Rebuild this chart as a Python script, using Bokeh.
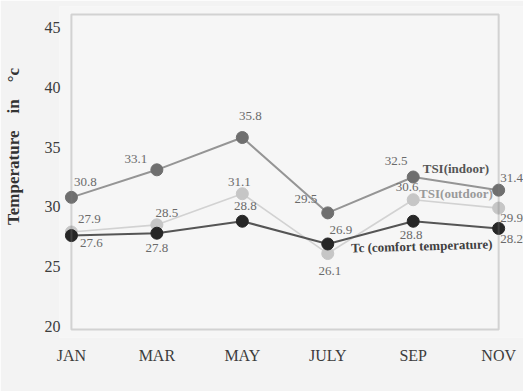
import numpy as np
from bokeh.plotting import figure
from bokeh.models import (ColumnDataSource, Range1d, FixedTicker, BoxAnnotation, Label)
from bokeh.core.properties import value
from bokeh.embed import file_html
from bokeh.resources import INLINE

# ---- data ----
months = ["JAN", "MAR", "MAY", "JULY", "SEP", "NOV"]
tsi_indoor = [30.8, 33.1, 35.8, 29.5, 32.5, 31.4]
tsi_outdoor = [27.9, 28.5, 31.1, 26.1, 30.6, 29.9]
tc_comfort = [27.6, 27.8, 28.8, 26.9, 28.8, 28.2]
y_ticks = [20, 25, 30, 35, 40, 45]

# pixel offsets for the value labels (dx, dy; dy positive = down)
indoor_off = [(14, -15), (-21, -11), (8, -22), (-22, -14), (-17, -16), (13, -12)]
outdoor_off = [(18, -13), (10, -12), (-3, -12), (2, 17), (-6, -13), (13, 10)]
tc_off = [(20, 7), (0, 15), (3, -15), (13, -14), (-2, 14), (13, 11)]

SERIF = "Liberation Serif"
x = np.arange(len(months))

# plot box spans x 0..5 (86 px per step); ranges are padded so that edge
# markers and the NOV value labels are not clipped
px_x = 86.0
px_y = 11.96
y_top_box, y_bot_box = 46.087, 19.749

p = figure(width=523, height=391, output_backend="svg", toolbar_location=None,
           x_range=Range1d(-12 / px_x, 5 + 25 / px_x),
           y_range=Range1d(y_bot_box - 8 / px_y, y_top_box + 8 / px_y),
           min_border_left=56, min_border_right=0,
           min_border_top=6, min_border_bottom=54)
p.background_fill_color = "#f6f6f6"
p.border_fill_color = "#f3f3f3"
p.outline_line_color = None
p.grid.visible = False

# frame box
p.add_layout(BoxAnnotation(left=0, right=5, bottom=y_bot_box, top=y_top_box,
                           fill_alpha=0, line_color="#7d7d7d", line_width=2))

# axes
p.xaxis.ticker = FixedTicker(ticks=list(x))
p.xaxis.major_label_overrides = {int(i): m for i, m in zip(x, months)}
p.yaxis.ticker = FixedTicker(ticks=y_ticks)
for ax in (p.xaxis, p.yaxis):
    ax.axis_line_color = None
    ax.major_tick_line_color = None
    ax.minor_tick_line_color = None
    ax.major_tick_out = 0
    ax.major_tick_in = 0
    ax.minor_tick_out = 0
    ax.minor_tick_in = 0
    ax.major_label_text_font = SERIF
    ax.major_label_text_font_size = "16px"
    ax.major_label_text_color = "#3c3c3c"
p.xaxis.major_label_standoff = 9
p.yaxis.major_label_standoff = -1

nb = "\u00a0"
p.yaxis.axis_label = nb * 12 + "Temperature" + nb * 4 + "in" + nb * 4 + "°c"
p.yaxis.axis_label_text_font = SERIF
p.yaxis.axis_label_text_font_style = "bold"
p.yaxis.axis_label_text_font_size = "17px"
p.yaxis.axis_label_text_color = "#333333"
p.yaxis.axis_label_standoff = 19

series = [
    (tsi_indoor, "#959595", "#6f6f6f", 2.0, indoor_off),
    (tsi_outdoor, "#d2d2d2", "#c6c6c6", 1.6, outdoor_off),
    (tc_comfort, "#555555", "#262626", 2.0, tc_off),
]

for vals, lcol, mcol, lw, offs in series:
    src = ColumnDataSource(dict(
        x=x, y=vals, txt=[f"{v:.1f}" for v in vals],
        dx=[o[0] for o in offs], dy=[o[1] for o in offs]))
    p.line("x", "y", source=src, line_color=lcol, line_width=lw)
    p.scatter("x", "y", source=src, size=12, fill_color=mcol, line_color=mcol)
    p.text("x", "y", text="txt", source=src, x_offset="dx", y_offset="dy",
           text_font=value(SERIF), text_font_size="13px", text_color="#6a6a6a",
           text_align="center", text_baseline="middle")

# series names placed along their lines
def series_label(text, xpos, vals, dy, color, angle=0.0):
    yv = float(np.interp(xpos, x, vals))
    p.add_layout(Label(x=xpos, y=yv, y_offset=dy, text=text, text_font=SERIF,
                       text_font_size="13px", text_font_style="bold",
                       text_color=color, text_align="center",
                       text_baseline="middle", angle=angle))

series_label("TSI(indoor)", 4.5, tsi_indoor, 15, "#555555")
series_label("TSI(outdoor)", 4.5, tsi_outdoor, 10, "#9a9a9a")
series_label("Tc (comfort temperature)", 4.1, tc_comfort, -24, "#404040", 0.03)

open("out.html", "w").write(file_html(p, INLINE))
